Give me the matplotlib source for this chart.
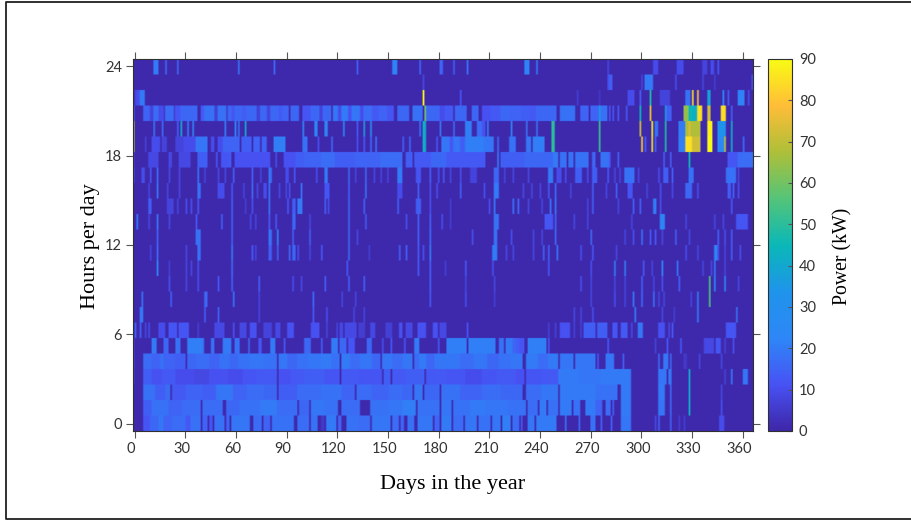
#!/usr/bin/env python3
# Yearly power heatmap: hour of day vs day of year.
import numpy as np
import matplotlib
matplotlib.use("Agg")
import matplotlib.pyplot as plt
from matplotlib.colors import LinearSegmentedColormap
from matplotlib.lines import Line2D
from matplotlib.transforms import ScaledTranslation

X_TICKS = list(range(0, 361, 30))
Y_TICKS = [0, 6, 12, 18, 24]
CBAR_TICKS = list(range(0, 91, 10))
BASE_KW = 1.0

# every row: (first day, last day, kW), rows counted from the bottom of the map
R0 = [(6,9,12),(10,14,16),(15,17,19),(18,22,15),(23,30,17),(31,33,13),(34,39,18),(41,43,15),(45,46,12),(48,53,18),(55,56,15),
      (58,68,19),(71,75,17),(77,80,15),(82,94,18),(97,103,17),(105,108,18),(111,112,5),(114,119,20),(121,122,15),(126,132,18),
      (133,139,17),(141,151,19),(153,156,17),(158,159,15),(162,165,18),(168,176,19),(178,180,15),(182,187,20),(189,194,17),
      (196,202,19),(204,210,18),(212,216,19),(218,222,21),(224,227,17),(229,229,13),(233,236,19),(238,249,20),(255,255,18),
      (263,263,16),(270,272,18),(276,276,14),(282,282,14),(288,293,19),(308,308,8),(310,310,14),(317,317,14),(322,322,6),
      (325,325,6),(346,348,10)]
R1 = [(6,10,14),(11,20,18),(21,28,15),(29,39,17),(41,52,17),(55,62,16),(63,74,18),(75,84,20),(85,96,17),(98,103,16),(105,112,19),
      (113,120,18),(123,133,17),(140,150,18),(151,158,19),(159,166,21),(168,180,18),(182,187,19),(189,198,18),(199,207,20),
      (208,220,19),(221,231,18),(233,238,17),(240,243,20),(245,250,18),(252,258,20),(260,263,18),(267,272,20),(273,276,15),
      (279,281,17),(283,283,14),(288,293,20),(310,313,19),(317,317,16),(328,328,42),(347,347,10)]
R2 = [(6,12,18),(13,18,14),(19,21,17),(23,30,13),(31,40,15),(41,48,14),(49,58,19),(59,66,15),(67,76,17),(77,84,16),(86,96,14),
      (97,110,17),(111,122,18),(123,130,15),(132,140,17),(141,150,15),(151,158,17),(159,164,16),(166,170,19),(172,180,16),
      (182,192,18),(193,205,15),(206,216,17),(217,229,16),(232,240,17),(241,250,19),(252,263,20),(264,272,20),(273,276,18),
      (277,281,18),(282,285,18),(288,293,20),(310,313,20),(317,317,16),(328,328,40),(347,347,8)]
R3 = [(0,0,6),(6,10,14),(11,16,11),(17,24,13),(25,35,10),(36,44,9),(45,55,11),(56,64,10),(65,72,12),(73,84,13),(86,92,11),(93,100,13),
      (101,112,14),(113,121,12),(123,132,13),(133,146,12),(148,151,14),(153,160,13),(161,171,14),(173,184,13),(185,195,12),
      (196,205,10),(206,214,12),(215,225,13),(226,230,11),(232,240,12),(241,250,13),(251,262,20),(263,275,19),(276,293,20),
      (310,314,19),(316,317,19),(328,328,40),(349,349,7),(353,353,19),(360,362,19)]
R4 = [(0,0,8),(6,10,17),(11,15,15),(16,17,18),(18,24,15),(25,30,14),(32,36,16),(37,44,17),(45,50,15),(51,56,18),(57,61,16),(62,68,18),
      (69,76,19),(77,84,18),(86,90,19),(91,96,16),(97,102,18),(103,110,19),(111,116,20),(117,121,18),(123,127,20),(128,133,17),
      (134,140,19),(141,145,16),(147,152,19),(153,158,17),(159,164,19),(166,168,17),(169,172,20),(173,177,16),(178,184,19),
      (185,192,19),(193,200,17),(201,208,19),(209,215,16),(216,222,18),(223,229,19),(232,238,20),(239,244,17),(245,250,20),
      (252,255,19),(256,259,19),(261,263,19),(264,268,19),(269,270,19),(271,272,19),(274,274,12),(279,283,19),(289,289,14),
      (310,310,16),(313,315,19),(317,317,16),(325,326,5),(334,334,8),(347,347,8)]
R5 = [(0,0,7),(11,13,20),(18,20,16),(25,27,18),(32,40,21),(41,41,18),(46,47,18),(53,57,20),(60,62,18),(68,68,16),(74,75,12),
      (81,83,20),(89,89,12),(101,104,16),(111,111,14),(117,120,20),(122,125,16),(127,130,12),(138,140,16),(147,147,10),
      (152,152,12),(160,160,12),(166,168,20),(180,180,12),(185,196,21),(198,213,21),(216,218,18),(220,223,20),(224,225,16),
      (226,227,14),(228,230,12),(233,243,21),(245,245,12),(280,280,12),(308,308,7),(315,315,12),(323,323,12),(337,342,9),
      (344,346,12),(349,349,7),(354,354,10)]
R6 = [(1,1,14),(4,4,14),(7,7,8),(9,9,10),(15,18,10),(21,25,12),(27,32,12),(38,38,6),(48,53,9),(59,59,11),(63,66,9),(69,72,11),
      (77,81,8),(84,86,9),(91,94,11),(105,109,11),(114,114,8),(120,120,8),(122,123,9),(125,131,9),(133,136,6),(140,142,9),
      (149,152,7),(157,158,11),(161,164,9),(168,172,11),(177,179,11),(181,184,9),(197,197,11),(245,245,7),(249,249,7),
      (252,257,11),(260,260,7),(264,264,7),(266,272,14),(274,279,14),(283,285,12),(288,291,13),(294,294,9),(298,300,19),
      (310,313,11),(316,316,9),(318,318,12),(350,355,12)]
R7 = [(4,5,20),(42,42,14),(50,50,14),(74,74,8),(106,106,12),(114,114,10),(130,130,8),(136,136,8),(260,260,8),(264,264,8),
      (271,271,10),(296,296,20),(312,312,8),(319,319,6),(333,333,20),(356,356,18)]
R8 = [(5,5,18),(22,22,14),(42,43,16),(59,59,18),(74,74,8),(106,106,16),(123,123,8),(131,131,8),(175,175,12),(196,196,10),
      (213,213,6),(270,270,8),(284,284,10),(290,290,8),(295,295,18),(300,300,16),(307,307,18),(310,310,8),(313,313,8),
      (329,329,8),(333,333,20),(340,340,55)]
R9 = [(21,21,10),(31,31,8),(38,38,10),(50,50,12),(58,58,14),(74,74,14),(94,94,10),(99,99,8),(113,113,14),(127,127,14),(136,136,14),
      (175,175,14),(196,196,8),(213,213,8),(264,264,10),(270,270,8),(284,284,8),(290,290,8),(300,300,14),(307,307,8),(312,312,10),
      (322,322,14),(340,340,55),(343,343,22),(349,349,22),(357,357,8)]
R10 = [(14,14,22),(21,21,6),(31,31,8),(34,34,8),(38,38,10),(58,58,16),(126,126,12),(168,168,12),(175,175,14),(184,184,6),(196,196,12),
       (212,212,10),(245,245,12),(270,270,10),(284,284,20),(290,290,20),(301,301,12),(306,306,8),(312,312,22),(321,321,18),
       (336,336,8),(341,341,8),(343,343,20),(349,349,8)]
R11 = [(10,10,8),(14,14,16),(31,31,8),(38,39,18),(58,58,20),(70,70,12),(72,72,8),(80,81,14),(85,85,14),(92,92,16),(94,95,16),(97,97,10),
       (104,104,8),(111,111,12),(127,127,16),(139,139,6),(157,157,14),(161,161,14),(168,168,12),(171,171,10),(175,175,20),
       (212,214,20),(220,220,8),(224,224,8),(236,236,8),(242,242,14),(245,245,14),(250,250,18),(264,264,10),(271,271,12),
       (285,285,8),(326,326,10),(333,333,8),(343,344,22),(345,345,10),(349,349,8),(353,353,14),(358,358,10)]
R12 = [(14,14,14),(37,39,18),(58,58,14),(80,81,18),(85,85,22),(94,94,14),(104,104,14),(127,127,16),(132,132,8),(168,168,14),(175,175,16),
       (200,200,10),(213,214,18),(223,223,10),(236,236,8),(241,241,8),(249,249,16),(270,270,16),(290,290,8),(295,295,10),
       (300,300,18),(305,305,12),(308,308,12),(312,312,8),(320,320,14),(328,328,8),(345,345,14),(349,349,10),(353,353,14)]
R13 = [(2,2,20),(9,9,8),(14,14,18),(21,21,8),(37,37,12),(52,52,14),(58,58,14),(69,69,8),(72,72,8),(80,80,12),(84,84,12),(94,95,16),
       (104,104,8),(127,127,16),(137,137,12),(161,161,10),(168,168,14),(175,175,14),(182,182,10),(187,187,6),(213,215,18),
       (243,247,12),(249,249,14),(260,260,8),(268,268,8),(294,294,8),(311,313,22),(326,326,8),(343,343,8),(348,348,8),(356,362,12)]
R14 = [(9,10,14),(20,23,8),(26,26,8),(31,31,10),(34,34,10),(38,38,12),(58,58,14),(66,66,6),(70,70,10),(80,80,18),(91,91,12),(94,95,14),
       (97,99,20),(113,113,14),(115,115,10),(127,127,16),(136,136,14),(156,156,14),(167,169,14),(175,175,10),(187,187,6),(210,210,10),
       (213,213,20),(224,224,18),(227,227,16),(233,233,8),(241,241,8),(246,246,18),(249,249,18),(268,268,8),(271,271,14),(286,286,8),
       (295,295,14),(299,299,14),(307,308,20),(311,311,10),(353,353,12)]
R15 = [(9,9,8),(14,14,18),(20,20,8),(27,27,8),(38,39,18),(50,53,10),(58,58,12),(65,65,8),(70,70,16),(73,73,8),(77,78,10),(80,80,18),(86,86,8),
       (90,90,8),(92,92,10),(99,99,18),(113,115,12),(127,127,14),(137,137,18),(156,158,10),(168,168,14),(175,175,10),(179,179,10),
       (193,193,14),(207,207,10),(213,215,20),(230,230,8),(235,235,8),(240,240,8),(245,245,12),(249,249,16),(258,258,8),(271,271,14),
       (279,279,8),(285,285,14),(292,294,12),(303,303,8),(311,311,10),(318,318,8),(326,329,16),(333,333,10),(351,352,14),(354,354,14),(357,357,10)]
R16 = [(0,0,10),(5,6,10),(10,10,12),(14,14,16),(21,21,8),(27,27,8),(38,38,18),(42,42,8),(50,50,8),(54,54,8),(59,59,14),(70,70,14),(75,75,8),
       (80,81,18),(90,91,10),(95,95,12),(108,108,10),(113,114,20),(127,127,16),(131,131,8),(137,137,16),(142,142,8),(146,146,8),
       (150,150,8),(156,158,20),(167,169,12),(175,175,14),(180,180,10),(183,183,12),(187,187,8),(193,193,10),(199,202,8),(213,215,16),
       (219,219,8),(224,224,8),(233,233,8),(245,247,20),(250,252,10),(255,255,10),(261,264,14),(268,268,10),(271,273,14),(280,280,12),
       (284,284,8),(287,287,8),(290,295,18),(298,298,8),(310,310,10),(313,315,14),(318,318,14),(328,330,18),(350,355,18),(357,357,8)]
R17 = [(0,0,7),(9,14,9),(21,22,9),(27,33,9),(38,43,14),(49,49,12),(52,56,12),(57,57,14),(60,66,11),(67,80,11),(84,84,10),(89,95,11),
       (96,100,14),(101,110,15),(111,118,17),(119,130,14),(131,145,15),(146,158,17),(161,164,14),(166,175,13),(176,184,16),(185,207,13),
       (215,215,20),(217,230,14),(231,247,16),(248,250,20),(252,253,18),(254,255,18),(257,259,18),(261,263,18),(264,268,18),(271,272,16),
       (276,280,18),(281,281,12),(286,286,14),(313,313,14),(317,317,14),(328,328,45),(351,356,12),(357,365,17)]
R18 = [(0,0,65),(7,7,7),(11,15,10),(17,19,8),(25,29,8),(30,37,10),(37,43,19),(46,47,10),(50,52,10),(53,62,15),(64,69,14),(71,74,15),(76,78,15),
       (83,89,21),(100,102,18),(109,109,10),(117,117,16),(132,132,10),(136,136,12),(140,140,16),(143,143,18),(159,159,14),(163,163,16),
       (171,172,42),(179,179,12),(182,187,19),(187,189,12),(189,193,19),(193,196,14),(196,207,21),(207,212,19),(215,215,16),(222,225,18),
       (232,234,19),(236,242,21),(247,248,50),(275,275,52),(300,300,82),(302,302,12),(306,306,85),(308,308,14),(314,314,48),(322,325,21),
       (326,329,85),(330,334,72),(339,341,90),(345,348,25),(349,349,70),(353,353,42),(360,360,16)]
R19 = [(0,0,65),(12,12,18),(17,17,16),(26,26,14),(28,28,40),(32,32,20),(35,35,22),(54,54,20),(60,60,22),(62,62,18),(66,66,40),(100,100,22),
       (107,108,22),(113,114,22),(124,124,22),(132,132,12),(136,136,35),(140,140,25),(169,169,18),(171,172,42),(181,181,18),(189,189,16),
       (196,199,21),(203,205,17),(206,207,11),(209,209,21),(223,223,21),(232,232,18),(238,238,18),(247,248,50),(275,275,52),(299,299,72),
       (306,306,88),(308,309,18),(314,314,48),(322,325,20),(326,327,68),(328,328,74),(329,334,68),(339,341,88),(345,349,33),(353,353,42)]
R20 = [(0,0,14),(6,9,15),(10,11,8),(12,14,17),(15,17,10),(18,18,5),(19,23,17),(24,24,7),(25,27,12),(28,37,16),(40,41,13),(42,47,18),(48,49,7),
       (50,54,18),(55,55,5),(56,57,16),(58,59,12),(60,63,16),(64,66,14),(67,72,16),(73,74,7),(75,78,16),(79,80,8),(81,85,16),(86,87,13),
       (88,91,15),(93,97,16),(100,104,12),(105,109,16),(110,111,8),(112,116,16),(118,120,19),(121,122,10),(123,126,20),(127,128,11),
       (129,133,19),(134,135,10),(136,140,17),(141,144,13),(145,149,15),(150,153,12),(156,162,16),(165,170,18),(172,172,60),(173,180,16),
       (181,183,10),(184,188,13),(190,196,16),(200,203,16),(206,210,11),(211,216,13),(217,221,16),(222,228,15),(229,233,14),(234,237,13),
       (238,249,16),(252,260,18),(264,268,15),(270,274,15),(275,275,35),(276,279,18),(281,281,12),(283,283,12),(286,286,12),(291,291,12),
       (299,299,45),(305,305,75),(314,314,35),(315,317,14),(325,327,64),(328,329,45),(330,332,42),(333,335,85),(339,340,72),(347,349,85),(353,353,14)]
R21 = [(1,1,8),(2,3,10),(4,6,20),(171,171,90),(193,193,12),(262,262,6),(275,275,5),(292,295,10),(299,299,14),(305,305,48),(311,316,8),
       (326,328,18),(330,330,85),(333,333,80),(339,340,38),(348,348,25),(351,351,12),(357,360,22),(363,363,10)]
R22 = [(171,171,8),(280,280,10),(281,282,14),(300,300,8),(302,306,20),(320,320,10),(336,336,8),(343,343,6),(365,365,10)]
R23 = [(12,14,20),(19,19,16),(26,26,16),(62,62,18),(83,83,16),(132,132,14),(153,155,22),(169,169,16),(181,182,15),(189,189,14),(197,197,18),
       (231,233,22),(238,238,20),(280,280,8),(307,309,10),(321,324,10),(336,338,8),(341,342,10),(345,345,12)]
ROWS = [R0, R1, R2, R3, R4, R5, R6, R7, R8, R9, R10, R11, R12, R13, R14, R15, R16, R17, R18, R19, R20, R21, R22, R23]

PARULA = [(0.2422, 0.1504, 0.6603), (0.2810, 0.3228, 0.9579), (0.1786, 0.5289, 0.9682), (0.1200, 0.5800, 0.9200),
          (0.0400, 0.7200, 0.7200), (0.3300, 0.7700, 0.4700), (0.6800, 0.7500, 0.2200), (1.0000, 0.7400, 0.2200),
          (0.9769, 0.9839, 0.0805)]

power = np.full((len(ROWS), 366), BASE_KW)
for i, row in enumerate(ROWS):
    for first, last, kw in row:
        power[i, first:last + 1] = kw
# repeat rows so the smoothing stays across days and the hour bands keep sharp edges
smooth = np.repeat(power, 20, axis=0)

plt.rcParams['font.family'] = ['Lato', 'DejaVu Sans']
cmap = LinearSegmentedColormap.from_list("parula", PARULA, N=256)

fig = plt.figure(figsize=(9.12, 5.22), dpi=100)
W, H = 912.0, 522.0
# frame of the source page, open on the right
fig.add_artist(Line2D([1, 6 / W, 6 / W, 1], [1 - 2 / H, 1 - 2 / H, 1 - 519 / H, 1 - 519 / H],
                      transform=fig.transFigure, color='#202020', linewidth=1.3))

ax = fig.add_axes([133 / W, 1 - 431 / H, 620 / W, 372 / H])
im = ax.imshow(smooth, origin='lower', aspect='auto', cmap=cmap, vmin=0, vmax=90,
               extent=(-0.9, 366.1, -0.5, 24.5), interpolation='bilinear')
ax.set_xticks(X_TICKS)
ax.set_yticks(Y_TICKS)
ax.tick_params(top=True, right=True, direction='out', length=5, width=0.8, color='#555555',
               labelsize=10.5, labelcolor='#333333', pad=3)
shift = ScaledTranslation(-3.5 / 100, 0, fig.dpi_scale_trans)
for lab in ax.get_xticklabels():
    lab.set_transform(lab.get_transform() + shift)
for s in ax.spines.values():
    s.set_color('#303030')
    s.set_linewidth(0.8)
ax.set_xlabel("Days in the year", family='Liberation Serif', fontsize=16)
ax.xaxis.set_label_coords((453 - 133) / 620, (431 - 484) / 372, transform=ax.transAxes)
ax.xaxis.label.set_va('center')
ax.set_ylabel("Hours per day", family='Liberation Serif', fontsize=16)
ax.yaxis.set_label_coords((90 - 133) / 620, (431 - 246) / 372, transform=ax.transAxes)
ax.yaxis.label.set_va('center')

cax = fig.add_axes([768 / W, 1 - 431 / H, 24 / W, 372 / H])
cb = fig.colorbar(im, cax=cax)
cb.set_ticks(CBAR_TICKS)
cb.ax.tick_params(direction='in', length=3, width=0.8, color='#555555', labelsize=10.5, labelcolor='#333333', pad=5)
cb.outline.set_edgecolor('#303030')
cb.outline.set_linewidth(0.8)
cb.set_label("Power (kW)", family='Liberation Serif', fontsize=14.2)
cb.ax.yaxis.set_label_coords((843 - 768) / 24, (431 - 256) / 372, transform=cb.ax.transAxes)
cb.ax.yaxis.label.set_va('center')

fig.savefig("out.png", dpi=100)
